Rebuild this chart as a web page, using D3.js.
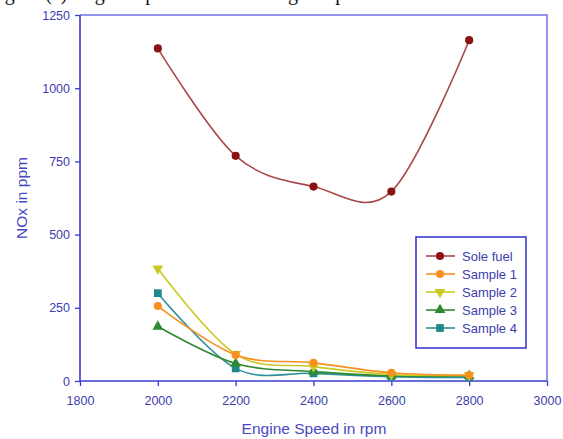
<!DOCTYPE html>
<html>
<head>
<meta charset="utf-8">
<script src="https://cdn.jsdelivr.net/npm/d3@7"></script>
<style>
  html, body { margin: 0; padding: 0; background: #fff; }
  svg { display: block; }
</style>
</head>
<body>
<svg id="chart" width="563" height="439"></svg>
<script>
// Engine speed (rpm) at which NOx was measured
const speeds = [2000, 2200, 2400, 2600, 2800];

// NOx (ppm) per fuel
const soleFuel = [1136, 769, 664, 647, 1164];
const sample1  = [256, 89, 62, 28, 19];
const sample2  = [384, 92, 49, 22, 20];
const sample3  = [186, 60, 32, 18, 17];
const sample4  = [300, 43, 26, 15, 12];

const seriesNames = ["Sole fuel", "Sample 1", "Sample 2", "Sample 3", "Sample 4"];

// Axis ticks
const xTicks = [1800, 2000, 2200, 2400, 2600, 2800, 3000];
const yTicks = [0, 250, 500, 750, 1000, 1250];

const captionText = "Figure (a) Engine Speed vs NOx using sample fuels";

const series = [
  { name: seriesNames[0], values: soleFuel, color: "#8b1212", line: "#a84848", symbol: d3.symbolCircle, size: 52, rot: 0 },
  { name: seriesNames[1], values: sample1, color: "#f7901e", line: "#f7901e", symbol: d3.symbolCircle, size: 52, rot: 0 },
  { name: seriesNames[2], values: sample2, color: "#c9c923", line: "#c9c923", symbol: d3.symbolTriangle, size: 50, rot: 180 },
  { name: seriesNames[3], values: sample3, color: "#2f8a2f", line: "#2f8a2f", symbol: d3.symbolTriangle, size: 50, rot: 0 },
  { name: seriesNames[4], values: sample4, color: "#1f8888", line: "#2c8e9a", symbol: d3.symbolSquare, size: 60, rot: 0 }
];

const svg = d3.select("#chart");
const axisColor = "#3b3bd0";
const frameColor = "#7272e2";
const textColor = "#3d3dae";
const sans = "Liberation Sans, Arial, sans-serif";

const plot = { left: 80, right: 547, top: 15, bottom: 381 };

const x = d3.scaleLinear().domain([1800, 3000]).range([plot.left, plot.right]);
const y = d3.scaleLinear().domain([0, 1250]).range([plot.bottom, plot.top]);

// Caption line above the chart, running off the top edge
svg.append("text")
  .attr("x", -12).attr("y", 0)
  .attr("font-family", "Liberation Serif, Times New Roman, serif")
  .attr("font-size", 20)
  .attr("fill", "#111")
  .text(captionText);

// Top and right frame
svg.append("path")
  .attr("d", `M${plot.left},${plot.top}H${plot.right}V${plot.bottom}`)
  .attr("fill", "none")
  .attr("stroke", frameColor)
  .attr("stroke-width", 1.5);

// Axes
const xAxis = d3.axisBottom(x).tickValues(xTicks).tickSize(5).tickPadding(10).tickFormat(d3.format("d"));
const yAxis = d3.axisLeft(y).tickValues(yTicks).tickSize(5).tickPadding(5).tickFormat(d3.format("d"));

const gx = svg.append("g").attr("transform", `translate(0,${plot.bottom})`).call(xAxis);
const gy = svg.append("g").attr("transform", `translate(${plot.left},0)`).call(yAxis);

[gx, gy].forEach(g => {
  g.select(".domain").attr("stroke", axisColor).attr("stroke-width", 1.6);
  g.selectAll(".tick line").attr("stroke", axisColor).attr("stroke-width", 1.3);
  g.selectAll(".tick text")
    .attr("fill", textColor)
    .attr("font-family", sans)
    .attr("font-size", 12.5);
});
gx.select(".domain").attr("d", `M${plot.left},0H${plot.right}`);
gy.select(".domain").attr("d", `M0,${plot.bottom}V${plot.top}`);

// Axis titles
svg.append("text")
  .attr("x", 314).attr("y", 434)
  .attr("text-anchor", "middle")
  .attr("font-family", sans)
  .attr("font-size", 15.5)
  .attr("fill", "#4848c4")
  .text("Engine Speed in rpm");

svg.append("text")
  .attr("transform", "translate(27,198) rotate(-90)")
  .attr("text-anchor", "middle")
  .attr("font-family", sans)
  .attr("font-size", 15.5)
  .attr("fill", "#4848c4")
  .text("NOx in ppm");

// Smoothed series lines
const line = d3.line()
  .x((d, i) => x(speeds[i]))
  .y(d => y(d))
  .curve(d3.curveCardinal.tension(0));

const order = [4, 3, 2, 1, 0];
order.forEach(k => {
  const s = series[k];
  svg.append("path")
    .attr("d", line(s.values))
    .attr("fill", "none")
    .attr("stroke", s.line)
    .attr("stroke-width", 1.6);
});

const symbolPath = s => d3.symbol().type(s.symbol).size(s.size)();

order.forEach(k => {
  const s = series[k];
  svg.append("g").selectAll("path")
    .data(s.values)
    .join("path")
    .attr("d", symbolPath(s))
    .attr("transform", (d, i) => `translate(${x(speeds[i])},${y(d)}) rotate(${s.rot})`)
    .attr("fill", s.color);
});

// Legend
const legend = svg.append("g");
legend.append("rect")
  .attr("x", 416).attr("y", 237)
  .attr("width", 110).attr("height", 111)
  .attr("fill", "#fff")
  .attr("stroke", axisColor)
  .attr("stroke-width", 1.6);

series.forEach((s, i) => {
  const cy = 256 + i * 18;
  legend.append("line")
    .attr("x1", 426).attr("x2", 455)
    .attr("y1", cy).attr("y2", cy)
    .attr("stroke", s.line).attr("stroke-width", 1.6);
  legend.append("path")
    .attr("d", symbolPath(s))
    .attr("transform", `translate(440,${cy}) rotate(${s.rot})`)
    .attr("fill", s.color);
  legend.append("text")
    .attr("x", 462).attr("y", cy + 4.5)
    .attr("font-family", sans)
    .attr("font-size", 13)
    .attr("fill", textColor)
    .text(s.name);
});
</script>
</body>
</html>
